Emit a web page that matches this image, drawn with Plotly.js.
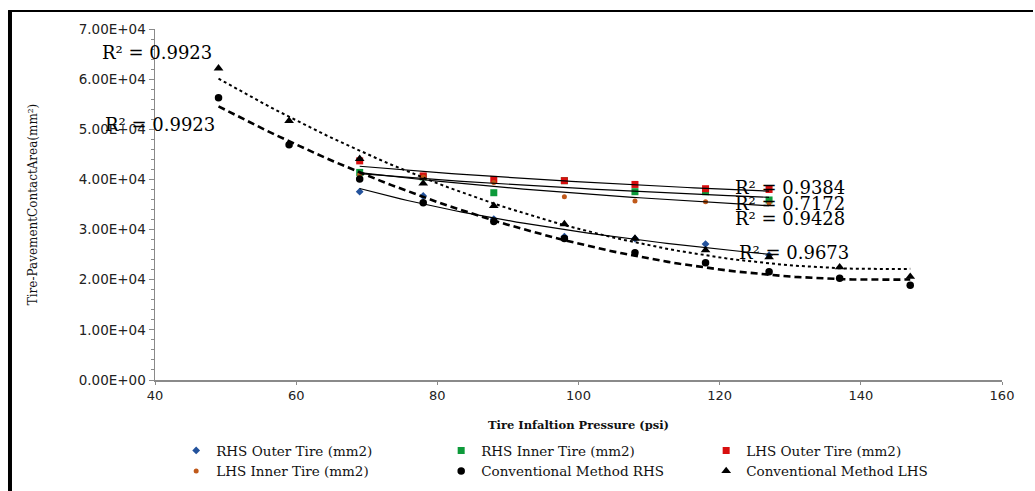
<!DOCTYPE html>
<html>
<head>
<meta charset="utf-8">
<script src="https://cdn.plot.ly/plotly-3.0.1.min.js"></script>
<style>html,body{margin:0;padding:0;background:#fff;}#chart{width:1035px;height:491px;}</style>
</head>
<body>
<div id="chart"></div>
<script>
// ---- data ----
const pressureAll = [49, 59, 69, 78, 88, 98, 108, 118, 127, 137, 147];
const pressureTire = [69, 78, 88, 98, 108, 118, 127];

const rhsOuter = [37550, 36700, 32100, 28600, 28200, 27100, 24900];
const rhsInner = [41400, 40500, 37350, 39750, 37550, 37550, 35900];
const lhsOuter = [43700, 40700, 40000, 39750, 39000, 38150, 38000];
const lhsInner = [41000, 40500, 39400, 36550, 35700, 35550, 35300];
const convRHS  = [56300, 46900, 40100, 35350, 31600, 28200, 25400, 23400, 21600, 20300, 18900];
const convLHS  = [62150, 51700, 44100, 39200, 34750, 31100, 28200, 25900, 24500, 22500, 20600];

const seriesNames = ['RHS Outer Tire (mm2)', 'RHS Inner Tire (mm2)', 'LHS Outer Tire (mm2)',
                     'LHS Inner Tire (mm2)', 'Conventional Method RHS', 'Conventional Method LHS'];
const r2Labels = ['R² = 0.9923', 'R² = 0.9923', 'R² = 0.9384', 'R² = 0.7172', 'R² = 0.9428', 'R² = 0.9673'];

const yTickVals = [0, 10000, 20000, 30000, 40000, 50000, 60000, 70000];
const yTickText = ['0.00E+00', '1.00E+04', '2.00E+04', '3.00E+04', '4.00E+04', '5.00E+04', '6.00E+04', '7.00E+04'];
const xTickVals = [40, 60, 80, 100, 120, 140, 160];

// ---- trendline fitting (derived from the data) ----
function powerFit(xs, ys) {
  const n = xs.length;
  let sx = 0, sy = 0, sxx = 0, sxy = 0;
  for (let i = 0; i < n; i++) {
    const lx = Math.log(xs[i]), ly = Math.log(ys[i]);
    sx += lx; sy += ly; sxx += lx * lx; sxy += lx * ly;
  }
  const b = (n * sxy - sx * sy) / (n * sxx - sx * sx);
  const a = Math.exp((sy - b * sx) / n);
  return x => a * Math.pow(x, b);
}
function quadFit(xs, ys) {
  let S = [0, 0, 0, 0, 0], T = [0, 0, 0];
  for (let i = 0; i < xs.length; i++) {
    let p = 1;
    for (let k = 0; k < 5; k++) { S[k] += p; if (k < 3) T[k] += p * ys[i]; p *= xs[i]; }
  }
  const M = [[S[0], S[1], S[2], T[0]], [S[1], S[2], S[3], T[1]], [S[2], S[3], S[4], T[2]]];
  for (let c = 0; c < 3; c++) {
    for (let r = c + 1; r < 3; r++) {
      const f = M[r][c] / M[c][c];
      for (let k = c; k < 4; k++) M[r][k] -= f * M[c][k];
    }
  }
  const coef = [0, 0, 0];
  for (let r = 2; r >= 0; r--) {
    let s = M[r][3];
    for (let k = r + 1; k < 3; k++) s -= M[r][k] * coef[k];
    coef[r] = s / M[r][r];
  }
  return x => coef[0] + coef[1] * x + coef[2] * x * x;
}
function curve(fn, x0, x1) {
  const xs = [], ys = [];
  for (let i = 0; i <= 60; i++) { const x = x0 + (x1 - x0) * i / 60; xs.push(x); ys.push(fn(x)); }
  return {xs, ys};
}

const serif = 'DejaVu Serif, Liberation Serif, serif';
const sans = 'DejaVu Sans, Liberation Sans, sans-serif';

const markerTraces = [
  {x: pressureTire, y: rhsOuter, name: seriesNames[0], marker: {symbol: 'diamond', size: 6, color: '#23529c'}},
  {x: pressureTire, y: rhsInner, name: seriesNames[1], marker: {symbol: 'square', size: 7, color: '#0d9a3a'}},
  {x: pressureTire, y: lhsOuter, name: seriesNames[2], marker: {symbol: 'square', size: 7, color: '#d80f0f'}},
  {x: pressureTire, y: lhsInner, name: seriesNames[3], marker: {symbol: 'circle', size: 5, color: '#c0591a'}},
  {x: pressureAll, y: convRHS, name: seriesNames[4], marker: {symbol: 'circle', size: 7.5, color: '#000000'}},
  {x: pressureAll, y: convLHS, name: seriesNames[5], marker: {symbol: 'triangle-up', size: 8.5, color: '#000000'}}
].map(t => Object.assign({type: 'scatter', mode: 'markers', cliponaxis: false}, t));

const trendSpecs = [
  {fn: powerFit(pressureTire, rhsOuter), x0: 69, x1: 127, line: {color: '#000', width: 1.2}},
  {fn: powerFit(pressureTire, rhsInner), x0: 69, x1: 127, line: {color: '#000', width: 1.2}},
  {fn: powerFit(pressureTire, lhsOuter), x0: 69, x1: 127, line: {color: '#000', width: 1.2}},
  {fn: powerFit(pressureTire, lhsInner), x0: 69, x1: 127, line: {color: '#000', width: 1.2}},
  {fn: quadFit(pressureAll, convRHS), x0: 49, x1: 147, line: {color: '#000', width: 2.6, dash: '7px,4px'}},
  {fn: quadFit(pressureAll, convLHS), x0: 49, x1: 147, line: {color: '#000', width: 2, dash: 'dot'}}
];
const trendTraces = trendSpecs.map(s => {
  const c = curve(s.fn, s.x0, s.x1);
  return {type: 'scatter', mode: 'lines', x: c.xs, y: c.ys, line: s.line, showlegend: false, hoverinfo: 'skip'};
});

// annotation anchor positions (paper coordinates)
const annPos = [
  {x: -0.065, y: 0.932}, {x: -0.061, y: 0.727}, {x: 0.682, y: 0.549},
  {x: 0.682, y: 0.504}, {x: 0.682, y: 0.459}, {x: 0.687, y: 0.362}
];
const annotations = r2Labels.map((t, i) => ({
  text: t, x: annPos[i].x, y: annPos[i].y, xref: 'paper', yref: 'paper',
  xanchor: 'left', yanchor: 'middle', showarrow: false,
  font: {family: serif, size: 18, color: '#000'}
}));

const layout = {
  width: 1035, height: 491,
  margin: {l: 155, r: 33, t: 29, b: 111, autoexpand: false},
  paper_bgcolor: '#fff', plot_bgcolor: '#fff',
  showlegend: true,
  xaxis: {
    range: [40, 160], tickvals: xTickVals, showgrid: false, zeroline: false,
    showline: true, linecolor: '#8a8a8a', linewidth: 1.5,
    ticks: 'outside', ticklen: 3, tickcolor: '#8a8a8a',
    tickfont: {family: sans, size: 13, color: '#222'},
    title: {text: '<b>Tire Infaltion Pressure (psi)</b>', font: {family: serif, size: 11.5, color: '#111'}, standoff: 19}
  },
  yaxis: {
    range: [0, 70000], tickvals: yTickVals, ticktext: yTickText, showgrid: false, zeroline: false,
    showline: true, linecolor: '#8a8a8a', linewidth: 1.5,
    ticks: 'outside', ticklen: 5, tickcolor: '#8a8a8a',
    minor: {dtick: 2000, ticks: 'outside', ticklen: 3, tickcolor: '#8a8a8a', showgrid: false},
    tickfont: {family: sans, size: 13.5, color: '#222'},
    title: {text: 'Tire-PavementContactArea(mm²)', font: {family: serif, size: 12, color: '#111'}, standoff: 38}
  },
  legend: {
    orientation: 'h', x: 0.025, y: -0.157, xanchor: 'left', yanchor: 'top',
    entrywidth: 220, entrywidthmode: 'pixels',
    font: {family: serif, size: 13.5, color: '#111'},
    bgcolor: 'rgba(0,0,0,0)'
  },
  annotations: annotations,
  shapes: [
    {type: 'line', xref: 'paper', yref: 'paper', x0: -0.1712, x1: -0.1712, y0: 1.051, y1: -0.32, line: {color: '#000', width: 4}},
    {type: 'line', xref: 'paper', yref: 'paper', x0: -0.1735, x1: 1.0366, y0: 1.051, y1: 1.051, line: {color: '#000', width: 2}}
  ]
};

Plotly.newPlot('chart', markerTraces.concat(trendTraces), layout, {displayModeBar: false, staticPlot: true});
</script>
</body>
</html>
